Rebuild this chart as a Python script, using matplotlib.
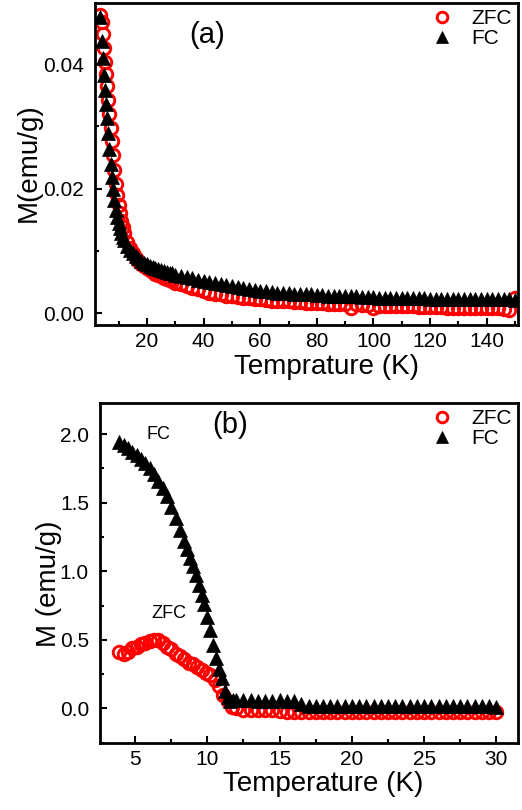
import matplotlib
matplotlib.use('Agg')
import matplotlib.pyplot as plt
from matplotlib.ticker import MultipleLocator, FormatStrFormatter

plt.rcParams['font.family'] = ['Liberation Sans', 'DejaVu Sans']

# panel (a): M vs T up to 150 K
temp_a = [3.6, 4.0, 4.4, 4.8, 5.2, 5.6, 6.0, 6.4, 6.8, 7.2, 7.6, 8.0,
          8.5, 9.0, 9.5, 10, 10.5, 11, 11.5, 12,
          13, 14, 15, 16, 17, 18, 19, 20, 21, 22, 23, 24, 25, 26, 27, 28, 29, 30,
          32, 34, 36, 38, 40, 42, 44, 46, 48, 50, 52, 54, 56, 58, 60,
          62, 64, 66, 68, 70, 72, 74, 76, 78, 80, 82, 84, 86, 88, 90,
          92, 94, 96, 98, 100, 102, 104, 106, 108, 110, 112, 114, 116, 118, 120,
          122, 124, 126, 128, 130, 132, 134, 136, 138, 140, 142, 144, 146, 148, 150]
fc_a = [0.0476, 0.0437, 0.0410, 0.0382, 0.0358, 0.0336, 0.0314, 0.0290, 0.0264, 0.0240, 0.0218, 0.0200,
        0.0182, 0.0166, 0.0154, 0.0144, 0.0136, 0.0129, 0.0122, 0.0117,
        0.0108, 0.0101, 0.0096, 0.0091, 0.0088, 0.0084, 0.0081, 0.0079, 0.0076, 0.0074,
        0.0072, 0.0071, 0.0069, 0.0068, 0.0066, 0.0065, 0.0064, 0.0062,
        0.0060, 0.0058, 0.0056, 0.0054, 0.0052, 0.0050, 0.0048, 0.0047, 0.0045, 0.0044,
        0.0042, 0.0041, 0.0039, 0.0037, 0.0036,
        0.0035, 0.0034, 0.0033, 0.0033, 0.0032, 0.0031, 0.0031, 0.0030, 0.0030, 0.0029,
        0.0029, 0.0028, 0.0028, 0.0028, 0.0027,
        0.0027, 0.0027, 0.0026, 0.0026, 0.0026, 0.0025, 0.0025, 0.0025, 0.0025, 0.0024,
        0.0024, 0.0024, 0.0024, 0.0024, 0.0023,
        0.0023, 0.0023, 0.0023, 0.0023, 0.0023, 0.0023, 0.0022, 0.0022, 0.0022, 0.0022,
        0.0022, 0.0022, 0.0022, 0.0022, 0.0021]
zfc_a = [0.0478, 0.0468, 0.0448, 0.0426, 0.0404, 0.0384, 0.0364, 0.0342, 0.0320, 0.0298, 0.0276, 0.0254,
         0.0230, 0.0208, 0.0190, 0.0174, 0.0160, 0.0148, 0.0138, 0.0129,
         0.0115, 0.0104, 0.0096, 0.0089, 0.0084, 0.0079, 0.0075, 0.0072, 0.0069, 0.0066,
         0.0063, 0.0061, 0.0059, 0.0057, 0.0055, 0.0053, 0.0051, 0.0049,
         0.0046, 0.0043, 0.0040, 0.0038, 0.0035, 0.0033, 0.0031, 0.0030, 0.0028, 0.0027,
         0.0026, 0.0025, 0.0024, 0.0023, 0.0022,
         0.0021, 0.0020, 0.0020, 0.0019, 0.0019, 0.0018, 0.0018, 0.0017, 0.0017, 0.0016,
         0.0016, 0.0015, 0.0015, 0.0015, 0.0014,
         0.0008, 0.0014, 0.0013, 0.0013, 0.0009, 0.0012, 0.0012, 0.0012, 0.0011, 0.0011,
         0.0011, 0.0011, 0.0010, 0.0010, 0.0010,
         0.0010, 0.0010, 0.0009, 0.0009, 0.0009, 0.0009, 0.0009, 0.0009, 0.0008, 0.0008,
         0.0008, 0.0008, 0.0006, 0.0005, 0.0024]

# panel (b): M vs T up to 30 K
temp_fc_b = [3.9, 4.2, 4.5, 4.8, 5.1, 5.4, 5.7, 6.0, 6.3, 6.6, 6.9, 7.2, 7.5, 7.8, 8.1, 8.4,
             8.6, 8.8, 9.0, 9.2, 9.4, 9.6, 9.8, 10.0, 10.2, 10.4, 10.6, 10.8, 11.0, 11.2,
             11.4, 11.6, 11.8, 12.0, 12.5, 13.0, 13.5, 14.0, 14.5, 15.0, 15.5, 16.0, 16.5,
             17.0, 17.5, 18.0, 18.5, 19.0, 19.5, 20.0, 20.5, 21.0, 21.5, 22.0, 22.5, 23.0,
             23.5, 24.0, 24.5, 25.0, 25.5, 26.0, 26.5, 27.0, 27.5, 28.0, 28.5, 29.0, 29.5, 30.0]
fc_b = [1.94, 1.92, 1.90, 1.87, 1.85, 1.82, 1.79, 1.75, 1.71, 1.66, 1.61, 1.55, 1.47, 1.39, 1.30, 1.22,
        1.16, 1.10, 1.04, 0.97, 0.90, 0.83, 0.76, 0.67, 0.57, 0.46, 0.37, 0.29, 0.22, 0.13,
        0.08, 0.05, 0.06, 0.06, 0.06, 0.06, 0.05, 0.05, 0.05, 0.06, 0.05, 0.05, 0.03,
        0.02, 0.02, 0.02, 0.02, 0.02, 0.02, 0.02, 0.02, 0.02, 0.02, 0.02, 0.02, 0.02,
        0.02, 0.02, 0.02, 0.02, 0.02, 0.02, 0.02, 0.02, 0.02, 0.02, 0.02, 0.02, 0.02, 0.01]
temp_zfc_b = [3.9, 4.2, 4.5, 4.8, 5.1, 5.4, 5.7, 6.0, 6.3, 6.6, 6.9, 7.2, 7.5, 7.8, 8.1,
              8.4, 8.7, 9.0, 9.3, 9.6, 9.9, 10.2, 10.5, 10.8, 11.1, 11.4, 11.7, 12.0,
              12.5, 13.0, 13.5, 14.0, 14.5, 15.0, 15.5, 16.0, 16.5, 17.0, 17.5, 18.0, 18.5,
              19.0, 19.5, 20.0, 20.5, 21.0, 21.5, 22.0, 22.5, 23.0, 23.5, 24.0, 24.5, 25.0,
              25.5, 26.0, 26.5, 27.0, 27.5, 28.0, 28.5, 29.0, 29.5, 30.0]
zfc_b = [0.41, 0.40, 0.41, 0.44, 0.45, 0.47, 0.48, 0.49, 0.50, 0.50, 0.48, 0.45, 0.43, 0.40, 0.38,
         0.36, 0.33, 0.32, 0.30, 0.28, 0.26, 0.24, 0.21, 0.16, 0.10, 0.05, 0.01, 0.00,
         -0.01, -0.01, -0.01, -0.01, -0.01, -0.02, -0.025, -0.025, -0.025, -0.025, -0.025, -0.025, -0.025,
         -0.025, -0.025, -0.025, -0.025, -0.025, -0.025, -0.025, -0.025, -0.025, -0.025, -0.025, -0.025, -0.025,
         -0.025, -0.025, -0.025, -0.025, -0.025, -0.025, -0.025, -0.025, -0.025, -0.025]

red = '#ff0000'
circle_style = dict(ls='none', marker='o', ms=9.0, mfc='none', mec=red, mew=2.1)
tri_style = dict(ls='none', marker='^', ms=10.5, color='black', mec='black', mew=0.5)


def style_axes(ax):
    for sp in ax.spines.values():
        sp.set_linewidth(2.0)
    ax.tick_params(which='both', direction='in', width=1.5, top=False, right=False)
    ax.tick_params(which='major', length=5)
    ax.tick_params(which='minor', length=3)
    ax.tick_params(axis='x', labelsize=15, pad=5)
    ax.tick_params(axis='y', labelsize=15, pad=8)


fig = plt.figure(figsize=(5.22, 8.10), dpi=100)

# (a)
ax1 = fig.add_axes([0.182, 0.5988, 0.8103, 0.3975])
ax1.plot(temp_a, zfc_a, label='ZFC', **circle_style)
ax1.plot(temp_a, fc_a, label='FC', **tri_style)
ax1.set_xlim(1.7, 151.0)
ax1.set_ylim(-0.0019, 0.0498)
ax1.xaxis.set_major_locator(MultipleLocator(20))
ax1.xaxis.set_minor_locator(MultipleLocator(10))
ax1.yaxis.set_major_locator(MultipleLocator(0.02))
ax1.yaxis.set_minor_locator(MultipleLocator(0.01))
ax1.yaxis.set_major_formatter(FormatStrFormatter('%.2f'))
style_axes(ax1)
ax1.set_xlabel('Temprature (K)', fontsize=20)
ax1.set_ylabel('M(emu/g)', fontsize=20)
ax1.xaxis.set_label_coords(0.547, -0.09)
ax1.yaxis.set_label_coords(-0.125, 0.505)
ax1.text(0.266, 0.90, '(a)', transform=ax1.transAxes, fontsize=21, ha='center', va='center')
ax1.legend(loc='upper right', frameon=False, fontsize=15, handlelength=1.0,
           handletextpad=0.9, borderaxespad=0.1, labelspacing=0.05, borderpad=0.2,
           markerscale=0.85)

# (b)
ax2 = fig.add_axes([0.1916, 0.0827, 0.8008, 0.4198])
ax2.plot(temp_zfc_b, zfc_b, label='ZFC', **circle_style)
ax2.plot(temp_fc_b, fc_b, label='FC', **tri_style)
ax2.set_xlim(2.57, 31.5)
ax2.set_ylim(-0.253, 2.228)
ax2.xaxis.set_major_locator(MultipleLocator(5))
ax2.xaxis.set_minor_locator(MultipleLocator(2.5))
ax2.yaxis.set_major_locator(MultipleLocator(0.5))
ax2.yaxis.set_minor_locator(MultipleLocator(0.25))
ax2.yaxis.set_major_formatter(FormatStrFormatter('%.1f'))
style_axes(ax2)
ax2.set_xlabel('Temperature (K)', fontsize=20)
ax2.set_ylabel('M (emu/g)', fontsize=20)
ax2.xaxis.set_label_coords(0.535, -0.082)
ax2.yaxis.set_label_coords(-0.091, 0.469)
ax2.text(0.312, 0.935, '(b)', transform=ax2.transAxes, fontsize=21, ha='center', va='center')
ax2.text(5.8, 2.0, 'FC', fontsize=13, ha='left', va='center')
ax2.text(6.15, 0.69, 'ZFC', fontsize=13, ha='left', va='center')
ax2.legend(loc='upper right', frameon=False, fontsize=15, handlelength=1.0,
           handletextpad=0.9, borderaxespad=0.1, labelspacing=0.05, borderpad=0.2,
           markerscale=0.85)

fig.savefig('out.png', dpi=100)
